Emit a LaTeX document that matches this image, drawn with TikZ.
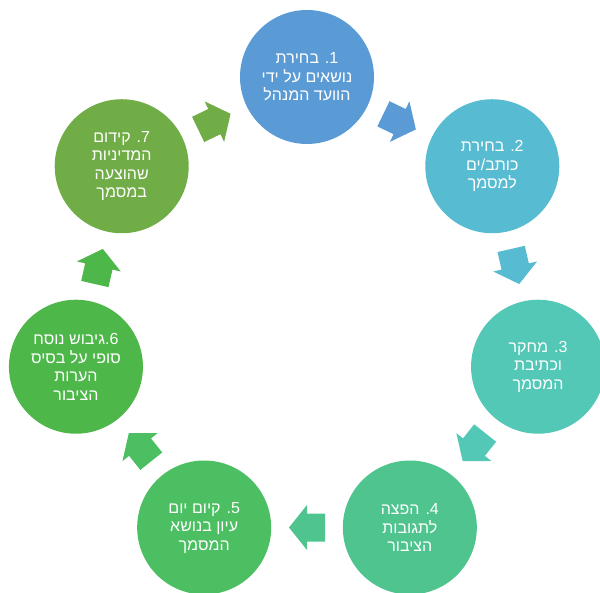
\documentclass[tikz,border=0pt]{standalone}
\usepackage{fontspec}
\usepackage{xcolor}
\usepackage{tikz}
\usetikzlibrary{calc}
\newfontfamily\hebfont[Script=Hebrew]{Liberation Sans}
\TeXXeTstate=1
\newcommand{\rtlline}[1]{\beginR #1\endR}

\definecolor{cone}{HTML}{5B9BD5}
\definecolor{ctwo}{HTML}{57BCD1}
\definecolor{cthree}{HTML}{54C8B7}
\definecolor{cfour}{HTML}{4FC48F}
\definecolor{cfive}{HTML}{4BBF61}
\definecolor{csix}{HTML}{4DB749}
\definecolor{cseven}{HTML}{70AD47}

\begin{document}
\begin{tikzpicture}[x=1pt,y=1pt,
  stage/.style={circle, minimum size=134pt, inner sep=0pt, text=white, align=center,
    font=\hebfont\fontsize{16}{18.5}\selectfont}]
\useasboundingbox (0,0) rectangle (600,593);
\clip (0,0) rectangle (600,593);
\coordinate (o) at (307,279);

\node[stage, fill=cone] (s1) at ([shift={(90:237)}]o)
  {\rtlline{1\kern0pt. בחירת}\\ \rtlline{נושאים על ידי}\\ \rtlline{הוועד המנהל}};
\node[stage, fill=ctwo] (s2) at ([shift={(38.571:237)}]o)
  {\rtlline{2\kern0pt. בחירת}\\ \rtlline{כותב/ים}\\ \rtlline{למסמך}};
\node[stage, fill=cthree] (s3) at ([shift={(-12.857:237)}]o)
  {\rtlline{3\kern0pt. מחקר}\\ \rtlline{וכתיבת}\\ \rtlline{המסמך}};
\node[stage, fill=cfour] (s4) at ([shift={(-64.286:237)}]o)
  {\rtlline{4\kern0pt. הפצה}\\ \rtlline{לתגובות}\\ \rtlline{הציבור}};
\node[stage, fill=cfive] (s5) at ([shift={(-115.714:237)}]o)
  {\rtlline{5\kern0pt. קיום יום}\\ \rtlline{עיון בנושא}\\ \rtlline{המסמך}};
\node[stage, fill=csix] (s6) at ([shift={(-167.143:237)}]o)
  {\rtlline{6\kern0pt.\kern0pt גיבוש נוסח}\\ \rtlline{סופי על בסיס}\\ \rtlline{הערות}\\ \rtlline{הציבור}};
\node[stage, fill=cseven] (s7) at ([shift={(141.429:237)}]o)
  {\rtlline{7\kern0pt. קידום}\\ \rtlline{המדיניות}\\ \rtlline{שהוצעה}\\ \rtlline{במסמך}};

% block arrows between the stages
\foreach \a/\b/\ang/\col in {s1/s2/-25.714/cone, s2/s3/-77.143/ctwo, s3/s4/-128.571/cthree,
  s4/s5/-180/cfour, s5/s6/128.571/cfive, s6/s7/77.143/csix, s7/s1/25.714/cseven}
{
  \begin{scope}[shift={($(\a)!0.5!(\b)$)}, rotate=\ang]
    \fill[\col] (-18,-14) -- (0,-14) -- (0,-22.5) -- (18,0) -- (0,22.5) -- (0,14) -- (-18,14) -- cycle;
  \end{scope}
}
\end{tikzpicture}
\end{document}
